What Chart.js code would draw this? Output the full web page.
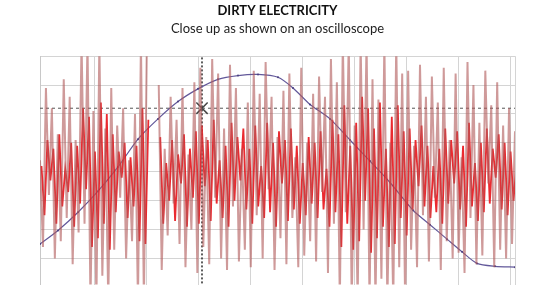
<!DOCTYPE html>
<html>
<head>
<meta charset="utf-8">
<script src="https://cdn.jsdelivr.net/npm/chart.js@4.4.1/dist/chart.umd.min.js"></script>
<style>
  html, body { margin: 0; padding: 0; background: #fff; overflow: hidden; }
  #scope { display: block; }
</style>
</head>
<body>
<canvas id="scope" width="558" height="294"></canvas>
<script>
// oscilloscope capture (x in px from left edge of screen, y in divisions)
const tracePoints = 161;
const screenWidth = 475;

// wide brownish trace (null = blank stretch in the capture)
const brownTrace = [
  0.4, -2.6, 2.9, -0.8, 2.2, -3.0, 1.3, -2.4, 3.2, -1.6, 2.6, -3.2, 1.1, -2.1,
  4.5, -1.8, 4.5, -4.5, 2.1, -4.5, 4.5, -3.6, 1.5, -4.5, 2.9,
  -2.7, 1.6, -0.9, 2.2, -3.0, 0.4, -2.4, 2.0,
  -4.5, 4.5, -4.5, 4.5,
  null, null, null,
  3.0, -3.4, 0.8, -2.2, 2.6, -1.1, 1.8, -2.5, 2.9, -3.3, 0.6, -2.0, 3.1, -3.5,
  3.6, -2.6, 1.2, -3.2, 3.9, -0.9, 3.4, -3.0, 1.5, -3.4, 3.7, -1.2, 2.9, -3.1, 0.8, -2.7,
  2.4, -3.3, 3.5, -1.5, 2.7, -3.0, 3.8, -0.6, 2.6, -3.4, 1.2, -2.3, 2.8, -3.2, 3.4, -1.6,
  0.5, -3.3, 3.6, -2.9, 1.0, -2.4, 2.7, -3.1, 3.3, -0.7, 2.6, -3.5, 3.9, -1.8, 3.1,
  -4.5, 4.5, -1.4, 4.5, -4.5, 1.6, -4.5, 4.5, -2.0, 4.5, -4.5, 3.2, -4.5, 2.5, -3.7, 4.5,
  -4.5, 1.0, -4.5, 4.5, -3.3, 3.4, -4.5,
  3.5, -2.7, 0.9, -3.3, 3.7, -1.5, 2.6, -3.1, 3.3, -0.9, 2.4, -3.4, 3.6, -2.4, 1.1, -3.0,
  3.4, -2.8, 0.5, -3.5, 3.8, -1.6, 3.0, -3.2, 1.7, -2.9, 3.5, -0.4, 2.3, -3.3, 3.1, -2.7,
  1.6, -3.0, 2.2, -2.5, 1.4
];

// bright red core of the trace (sampled half a step after the brown one)
const redTrace = [
  0.2, -1.5, 1.1, -0.3, 0.8, -1.8, 1.3, -1.2, 0.1, -0.7, 1.0, -1.9, 0.9, -1.1,
  2.2, -0.6, 1.9, -2.6, 0.7, -2.3, 2.4, -1.8, 2.0, -2.7, 1.3,
  -1.4, 0.7, -0.2, 1.0, -1.6, 0.5, -1.2, 0.9,
  -2.4, 2.2, -2.5, 1.8,
  null, null, null,
  1.2, -1.8, 0.3, -1.0, 1.1, -1.7, 0.6, -0.4, 1.3, -1.9, 0.8, -0.9, 1.4, -1.8,
  1.6, -0.5, 1.1, -1.7, 1.8, -1.1, 0.4, -1.6, 0.9, -1.9, 1.7, -1.0, 1.2, -0.3, 1.5, -1.3,
  0.8, -1.8, 1.6, -1.2, 0.2, -1.6, 1.7, -1.4, 1.0, -1.9, 1.4, -0.4, 1.1, -1.7, 1.5, -1.3,
  0.9, -1.8, 0.3, -1.5, 1.2, -1.1, 1.0, -1.6, 1.4, -1.3, 0.1, -1.9, 1.8, -1.4, 1.3,
  -2.6, 2.3, -1.8, 0.9, -2.7, 1.7, -2.4, 2.6, -1.0, 2.2, -2.8, 1.5, -2.3, 2.4, -1.9, 0.8,
  -2.6, 1.9, -2.5, 2.3, -1.6, 1.4, -2.2,
  1.5, -1.3, 1.1, -0.5, 1.6, -1.2, 0.9, -1.6, 0.2, -1.4, 0.8, -1.8, 1.5, -1.1, 1.1, -0.4,
  1.4, -1.3, 0.9, -1.9, 1.7, -1.2, 0.3, -1.7, 1.0, -1.4, 1.5, -1.1, 0.8, -0.2, 1.3, -1.3,
  1.0, -1.5, 0.7, -1.0, 0.3
];

// mains wave underneath
const sineX = [0, 18, 38, 58, 78, 98, 118, 138, 158, 178, 198, 218, 238, 253, 270, 290, 310, 330, 350, 373, 390, 407, 422, 437, 455, 475];
const sineY = [-2.5, -2.03, -1.4, -0.67, 0.17, 1.13, 1.83, 2.43, 2.87, 3.2, 3.33, 3.37, 3.27, 2.9, 2.33, 1.83, 1.1, 0.37, -0.37, -1.33, -1.83, -2.33, -2.77, -3.17, -3.27, -3.3];

// scope cursor
const cursorX = 162;
const cursorY = 2.2;

// graticule
const gridX = [0, 54, 106, 158, 210, 262, 314, 366, 418, 470, 475];
const gridY = [-3, -2, -1, 0, 1, 2, 3, 4];

const step = screenWidth / (tracePoints - 1);
const toPoints = (arr, offset) => arr.map((v, i) => ({ x: (i + offset) * step, y: v }));

const ctx = document.getElementById("scope");

new Chart(ctx, {
  type: "line",
  data: {
    datasets: [
      {
        label: "noise",
        data: toPoints(brownTrace, 0),
        borderColor: "rgba(178, 92, 92, 0.62)",
        borderWidth: 2,
        pointRadius: 0,
        tension: 0,
        spanGaps: false,
      },
      {
        label: "core",
        data: toPoints(redTrace, 0.5),
        borderColor: "rgba(232, 24, 30, 0.92)",
        borderWidth: 1.8,
        pointRadius: 0,
        tension: 0,
        spanGaps: false,
      },
      {
        label: "mains",
        data: sineX.map((x, i) => ({ x, y: sineY[i] })),
        borderColor: "#62589a",
        borderWidth: 1.2,
        pointRadius: 1,
        pointBackgroundColor: "#4a3f80",
        pointBorderWidth: 0,
        tension: 0.25,
      },
      {
        label: "cursor-v",
        data: [{ x: cursorX, y: -4 }, { x: cursorX, y: 4 }],
        borderColor: "#2a2a2a",
        borderWidth: 1.5,
        borderDash: [2, 2],
        pointRadius: 0,
      },
      {
        label: "cursor-h",
        data: [{ x: 0, y: cursorY }, { x: screenWidth, y: cursorY }],
        borderColor: "#555",
        borderWidth: 1,
        borderDash: [3, 3],
        pointRadius: 0,
      },
      {
        label: "marker",
        data: [{ x: cursorX, y: cursorY }],
        showLine: false,
        pointStyle: "crossRot",
        pointRadius: 8,
        borderColor: "#444",
        pointBorderWidth: 1.5,
      },
    ],
  },
  options: {
    responsive: false,
    animation: false,
    devicePixelRatio: 1,
    layout: { padding: { left: 40, right: 43, top: 0, bottom: 0 } },
    plugins: {
      legend: { display: false },
      tooltip: { enabled: false },
      title: {
        display: true,
        text: "DIRTY ELECTRICITY",
        color: "#111",
        font: { family: "Lato", size: 13, weight: "bold" },
        padding: { top: 3, bottom: 2 },
      },
      subtitle: {
        display: true,
        text: "Close up as shown on an oscilloscope",
        color: "#222",
        font: { family: "Lato", size: 13 },
        padding: { top: 0, bottom: 20 },
      },
    },
    scales: {
      x: {
        type: "linear",
        min: 0,
        max: screenWidth,
        afterBuildTicks: (axis) => { axis.ticks = gridX.map((v) => ({ value: v })); },
        ticks: { display: false },
        grid: { color: "#d4d4d4", lineWidth: 1, drawTicks: false },
        border: { display: false },
      },
      y: {
        min: -3.9,
        max: 4,
        afterBuildTicks: (axis) => { axis.ticks = gridY.map((v) => ({ value: v })); },
        ticks: { display: false },
        grid: { color: "#d4d4d4", lineWidth: 1, drawTicks: false },
        border: { display: true, color: "#c8c8c8" },
      },
    },
  },
});
</script>
</body>
</html>
